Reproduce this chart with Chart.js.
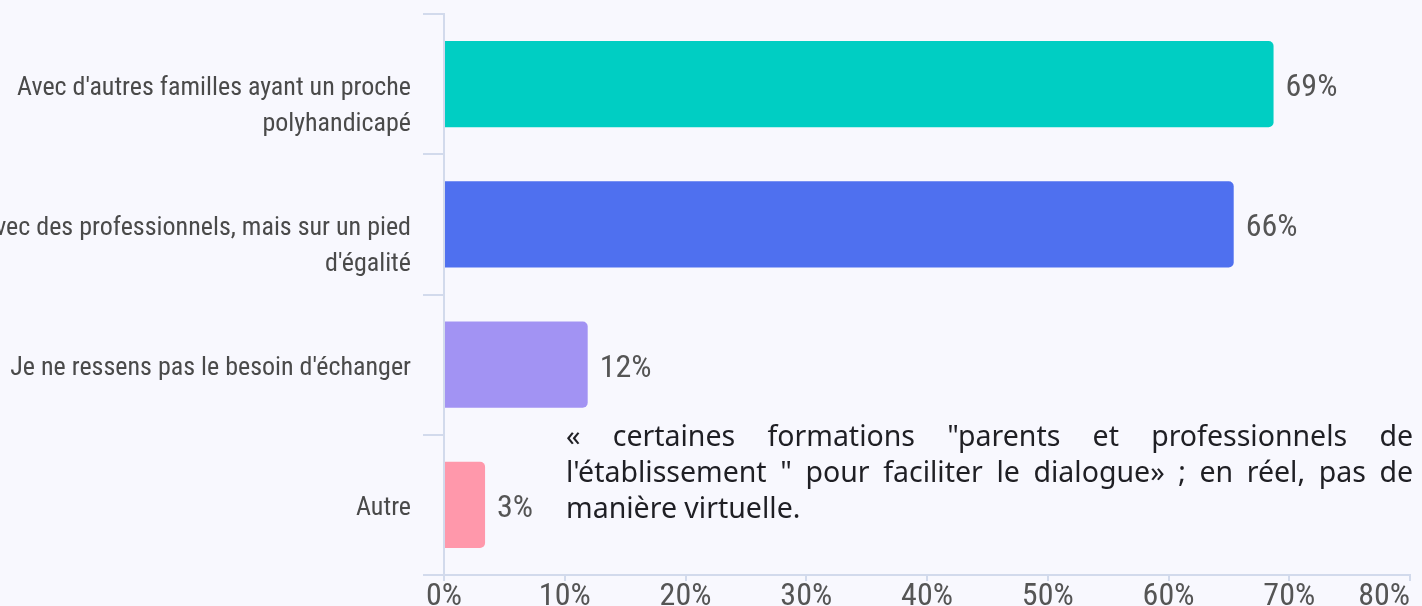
<!DOCTYPE html>
<html>
<head>
<meta charset="utf-8">
<script src="https://cdn.jsdelivr.net/npm/chart.js@4/dist/chart.umd.min.js"></script>
<style>
  html, body { margin: 0; padding: 0; background: #f8f8fe; }
  .wrap { position: relative; width: 1422px; height: 606px; overflow: hidden; }
  #chart { position: absolute; left: 0; top: 0; }
  .note {
    position: absolute; left: 566px; top: 417px; width: 847px;
    font-family: "Noto Sans", sans-serif; font-size: 28.5px; line-height: 36px;
    color: #1f1f24;
  }
  .note div { white-space: nowrap; }
  .note .j { text-align: justify; text-align-last: justify; white-space: normal; }
</style>
</head>
<body>
<div class="wrap">
  <canvas id="chart" width="1422" height="606"></canvas>
  <div class="note">
    <div class="j">« certaines formations "parents et professionnels de</div>
    <div class="j">l'établissement " pour faciliter le dialogue» ; en réel, pas de</div>
    <div>manière virtuelle.</div>
  </div>
</div>
<script>
// categories; the empty first line keeps the first text line level with the bar, like the original
const categories = [
  ['', 'Avec d\'autres familles ayant un proche', 'polyhandicapé'],
  ['', 'Avec des professionnels, mais sur un pied', 'd\'égalité'],
  'Je ne ressens pas le besoin d\'échanger',
  'Autre'
];
const values = [68.7, 65.4, 11.9, 3.4];
const valueLabels = ['69%', '66%', '12%', '3%'];
const barColors = ['#00cec3', '#4f70ef', '#a293f3', '#ff98ab'];
const xTicks = [0, 10, 20, 30, 40, 50, 60, 70, 80];

const narrow = '"Roboto Condensed", "Liberation Sans Narrow", "Arial Narrow", sans-serif';
const axisColor = '#d2daec';

// prints the % next to each bar
const valueLabelPlugin = {
  id: 'valueLabels',
  beforeDraw(chart) {
    // last x label sits flush left of its tick so it stays inside the canvas
    const x = chart.scales.x;
    const items = x.getLabelItems();
    const last = items[items.length - 1];
    if (last) {
      last.options.textAlign = 'right';
      last.options.translation[0] = x.getPixelForValue(xTicks[xTicks.length - 1]);
    }
  },
  afterDatasetsDraw(chart) {
    const ctx = chart.ctx;
    const meta = chart.getDatasetMeta(0);
    ctx.save();
    ctx.font = '32px ' + narrow;
    ctx.fillStyle = '#555';
    ctx.textAlign = 'left';
    ctx.textBaseline = 'middle';
    meta.data.forEach((bar, i) => {
      ctx.fillText(valueLabels[i], bar.x + 12, bar.y + 4);
    });
    ctx.restore();
  }
};

new Chart(document.getElementById('chart'), {
  type: 'bar',
  data: {
    labels: categories,
    datasets: [{
      data: values,
      backgroundColor: barColors,
      borderRadius: 5,
      categoryPercentage: 1,
      barPercentage: 0.615
    }]
  },
  options: {
    indexAxis: 'y',
    responsive: false,
    animation: false,
    layout: { padding: { top: 14, right: 12, left: 0, bottom: 0 } },
    plugins: { legend: { display: false }, tooltip: { enabled: false } },
    scales: {
      y: {
        afterFit(scale) {
          scale.width = 444;
          scale.paddingTop = 0;
          scale.paddingBottom = 0;
        },
        grid: { drawOnChartArea: false, drawTicks: true, tickLength: 21, color: axisColor, lineWidth: 2 },
        border: { color: axisColor, width: 2 },
        ticks: {
          color: '#4a4a4a',
          font: { family: narrow, size: 26, lineHeight: '36px' },
          padding: 12,
          labelOffset: 4
        }
      },
      x: {
        min: 0,
        max: 80,
        afterFit(scale) {
          scale.height = 31;
          scale.paddingLeft = 0;
          scale.paddingRight = 0;
        },
        afterBuildTicks(scale) { scale.ticks = xTicks.map(v => ({ value: v })); },
        grid: { drawOnChartArea: false, drawTicks: true, tickLength: 6, color: axisColor, lineWidth: 2 },
        border: { color: axisColor, width: 2 },
        ticks: {
          color: '#555',
          font: { family: narrow, size: 32 },
          padding: -3,
          maxRotation: 0,
          autoSkip: false,
          callback: v => v + '%'
        }
      }
    }
  },
  plugins: [valueLabelPlugin]
});
</script>
</body>
</html>
